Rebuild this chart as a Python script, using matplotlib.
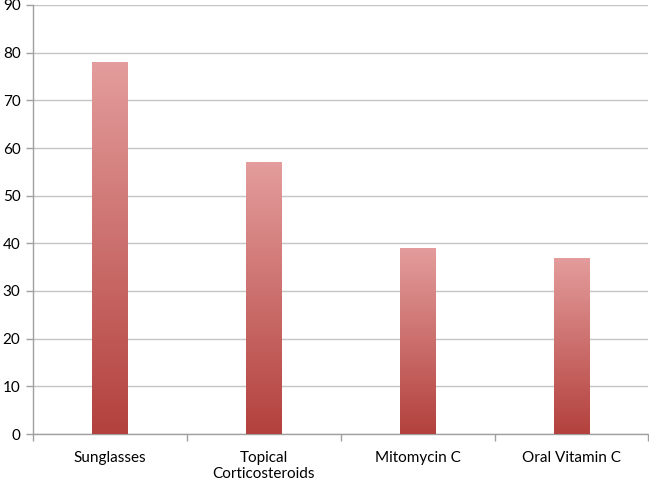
import matplotlib
matplotlib.use("Agg")
import matplotlib.pyplot as plt
import numpy as np
from matplotlib.colors import LinearSegmentedColormap

categories = ["Sunglasses", "Topical\nCorticosteroids", "Mitomycin C", "Oral Vitamin C"]
values = [78, 57, 39, 37]
yticks = [0, 10, 20, 30, 40, 50, 60, 70, 80, 90]

plt.rcParams['font.family'] = ['Lato', 'DejaVu Sans']

fig = plt.figure(figsize=(6.49, 4.83), dpi=100)
ax = fig.add_axes([33/649, 49/483, 1 - 33/649 - 0.001, (434-5)/483])

cmap = LinearSegmentedColormap.from_list("g", ["#b3413d", "#e39d9c"])
x = np.arange(len(categories))
width = 0.23
bars = ax.bar(x, values, width=width, color="none", edgecolor="none", zorder=3)
grad = np.linspace(0, 1, 256).reshape(-1, 1)
for b in bars:
    bx, by = b.get_x(), b.get_y()
    w, h = b.get_width(), b.get_height()
    im = ax.imshow(grad, extent=[bx, bx + w, by, by + h], origin="lower",
                   cmap=cmap, aspect="auto", zorder=3)
    im.set_clip_path(b)

ax.set_xlim(-0.5, len(categories) - 0.5)
ax.set_ylim(0, 90)
ax.set_yticks(yticks)
ax.set_yticklabels([str(t) for t in yticks], fontsize=11)
ax.yaxis.grid(True, color="#c4c4c4", linewidth=1.0, zorder=0)
ax.set_axisbelow(True)

ax.set_xticks(x)
ax.set_xticklabels(categories, fontsize=11)
ax.tick_params(axis="x", length=0, pad=12)
ax.set_xticks(np.arange(-0.5, len(categories)), minor=True)
ax.tick_params(axis="x", which="minor", length=5, color="#a0a0a0", width=1)
ax.tick_params(axis="y", length=5, color="#a0a0a0", width=1, pad=4)

for s in ["top", "right"]:
    ax.spines[s].set_visible(False)
for s in ["left", "bottom"]:
    ax.spines[s].set_color("#a0a0a0")
    ax.spines[s].set_linewidth(1.0)

fig.savefig("out.png", dpi=100)
